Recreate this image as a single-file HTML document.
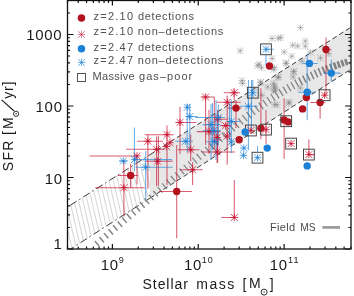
<!DOCTYPE html>
<html><head><meta charset="utf-8"><style>
html,body{margin:0;padding:0;background:#fff;}
svg{display:block;will-change:transform;}
</style></head><body>
<svg width="354" height="296" viewBox="0 0 354 296">
<clipPath id="pc"><rect x="67.5" y="0.5" width="283.5" height="248.5"/></clipPath>
<g clip-path="url(#pc)">
<polygon points="150.0,154.69 351.0,27.23 351.0,69.19 150.0,198.10" fill="#e7e7e7"/>
<clipPath id="hc"><polygon points="67.5,207.00 150.0,154.69 150.0,198.10 67.5,251.01"/></clipPath>
<path clip-path="url(#hc)" d="M-5.70,120 L24.20,250 M-1.32,120 L28.58,250 M3.06,120 L32.96,250 M7.44,120 L37.34,250 M11.82,120 L41.72,250 M16.20,120 L46.10,250 M20.58,120 L50.48,250 M24.96,120 L54.86,250 M29.34,120 L59.24,250 M33.72,120 L63.62,250 M38.10,120 L68.00,250 M42.48,120 L72.38,250 M46.86,120 L76.76,250 M51.24,120 L81.14,250 M55.62,120 L85.52,250 M60.00,120 L89.90,250 M64.38,120 L94.28,250 M68.76,120 L98.66,250 M73.14,120 L103.04,250 M77.52,120 L107.42,250 M81.90,120 L111.80,250 M86.28,120 L116.18,250 M90.66,120 L120.56,250 M95.04,120 L124.94,250 M99.42,120 L129.32,250 M103.80,120 L133.70,250 M108.18,120 L138.08,250 M112.56,120 L142.46,250 M116.94,120 L146.84,250 M121.32,120 L151.22,250 M125.70,120 L155.60,250 M130.08,120 L159.98,250 M134.46,120 L164.36,250 M138.84,120 L168.74,250 M143.22,120 L173.12,250 M147.60,120 L177.50,250 M151.98,120 L181.88,250 M156.36,120 L186.26,250 M160.74,120 L190.64,250 M165.12,120 L195.02,250 M169.50,120 L199.40,250 M173.88,120 L203.78,250 M178.26,120 L208.16,250 M182.64,120 L212.54,250 M187.02,120 L216.92,250 M191.40,120 L221.30,250 M195.78,120 L225.68,250 M200.16,120 L230.06,250 M204.54,120 L234.44,250 M208.92,120 L238.82,250" stroke="#d9d9d9" stroke-width="1.1" fill="none"/>
<line x1="236.80" y1="50.80" x2="243.60" y2="50.80" stroke="#7a7a7a" stroke-width="0.8" stroke-opacity="0.52"/><line x1="240.20" y1="47.40" x2="240.20" y2="54.20" stroke="#7a7a7a" stroke-width="0.8" stroke-opacity="0.52"/><line x1="237.04" y1="47.64" x2="243.36" y2="53.96" stroke="#7a7a7a" stroke-width="0.8" stroke-opacity="0.52"/><line x1="237.04" y1="53.96" x2="243.36" y2="47.64" stroke="#7a7a7a" stroke-width="0.8" stroke-opacity="0.52"/>
<line x1="268.60" y1="38.50" x2="275.40" y2="38.50" stroke="#7a7a7a" stroke-width="0.8" stroke-opacity="0.52"/><line x1="272.00" y1="35.10" x2="272.00" y2="41.90" stroke="#7a7a7a" stroke-width="0.8" stroke-opacity="0.52"/><line x1="268.84" y1="35.34" x2="275.16" y2="41.66" stroke="#7a7a7a" stroke-width="0.8" stroke-opacity="0.52"/><line x1="268.84" y1="41.66" x2="275.16" y2="35.34" stroke="#7a7a7a" stroke-width="0.8" stroke-opacity="0.52"/>
<line x1="274.90" y1="38.20" x2="281.70" y2="38.20" stroke="#7a7a7a" stroke-width="0.8" stroke-opacity="0.52"/><line x1="278.30" y1="34.80" x2="278.30" y2="41.60" stroke="#7a7a7a" stroke-width="0.8" stroke-opacity="0.52"/><line x1="275.14" y1="35.04" x2="281.46" y2="41.36" stroke="#7a7a7a" stroke-width="0.8" stroke-opacity="0.52"/><line x1="275.14" y1="41.36" x2="281.46" y2="35.04" stroke="#7a7a7a" stroke-width="0.8" stroke-opacity="0.52"/>
<line x1="297.00" y1="27.60" x2="303.80" y2="27.60" stroke="#7a7a7a" stroke-width="0.8" stroke-opacity="0.52"/><line x1="300.40" y1="24.20" x2="300.40" y2="31.00" stroke="#7a7a7a" stroke-width="0.8" stroke-opacity="0.52"/><line x1="297.24" y1="24.44" x2="303.56" y2="30.76" stroke="#7a7a7a" stroke-width="0.8" stroke-opacity="0.52"/><line x1="297.24" y1="30.76" x2="303.56" y2="24.44" stroke="#7a7a7a" stroke-width="0.8" stroke-opacity="0.52"/>
<line x1="301.90" y1="41.00" x2="308.70" y2="41.00" stroke="#7a7a7a" stroke-width="0.8" stroke-opacity="0.52"/><line x1="305.30" y1="37.60" x2="305.30" y2="44.40" stroke="#7a7a7a" stroke-width="0.8" stroke-opacity="0.52"/><line x1="302.14" y1="37.84" x2="308.46" y2="44.16" stroke="#7a7a7a" stroke-width="0.8" stroke-opacity="0.52"/><line x1="302.14" y1="44.16" x2="308.46" y2="37.84" stroke="#7a7a7a" stroke-width="0.8" stroke-opacity="0.52"/>
<line x1="289.30" y1="45.20" x2="296.10" y2="45.20" stroke="#7a7a7a" stroke-width="0.8" stroke-opacity="0.52"/><line x1="292.70" y1="41.80" x2="292.70" y2="48.60" stroke="#7a7a7a" stroke-width="0.8" stroke-opacity="0.52"/><line x1="289.54" y1="42.04" x2="295.86" y2="48.36" stroke="#7a7a7a" stroke-width="0.8" stroke-opacity="0.52"/><line x1="289.54" y1="48.36" x2="295.86" y2="42.04" stroke="#7a7a7a" stroke-width="0.8" stroke-opacity="0.52"/>
<line x1="294.30" y1="46.00" x2="301.10" y2="46.00" stroke="#7a7a7a" stroke-width="0.8" stroke-opacity="0.52"/><line x1="297.70" y1="42.60" x2="297.70" y2="49.40" stroke="#7a7a7a" stroke-width="0.8" stroke-opacity="0.52"/><line x1="294.54" y1="42.84" x2="300.86" y2="49.16" stroke="#7a7a7a" stroke-width="0.8" stroke-opacity="0.52"/><line x1="294.54" y1="49.16" x2="300.86" y2="42.84" stroke="#7a7a7a" stroke-width="0.8" stroke-opacity="0.52"/>
<line x1="301.90" y1="46.20" x2="308.70" y2="46.20" stroke="#7a7a7a" stroke-width="0.8" stroke-opacity="0.52"/><line x1="305.30" y1="42.80" x2="305.30" y2="49.60" stroke="#7a7a7a" stroke-width="0.8" stroke-opacity="0.52"/><line x1="302.14" y1="43.04" x2="308.46" y2="49.36" stroke="#7a7a7a" stroke-width="0.8" stroke-opacity="0.52"/><line x1="302.14" y1="49.36" x2="308.46" y2="43.04" stroke="#7a7a7a" stroke-width="0.8" stroke-opacity="0.52"/>
<line x1="280.80" y1="52.00" x2="287.60" y2="52.00" stroke="#7a7a7a" stroke-width="0.8" stroke-opacity="0.52"/><line x1="284.20" y1="48.60" x2="284.20" y2="55.40" stroke="#7a7a7a" stroke-width="0.8" stroke-opacity="0.52"/><line x1="281.04" y1="48.84" x2="287.36" y2="55.16" stroke="#7a7a7a" stroke-width="0.8" stroke-opacity="0.52"/><line x1="281.04" y1="55.16" x2="287.36" y2="48.84" stroke="#7a7a7a" stroke-width="0.8" stroke-opacity="0.52"/>
<line x1="288.40" y1="56.20" x2="295.20" y2="56.20" stroke="#7a7a7a" stroke-width="0.8" stroke-opacity="0.52"/><line x1="291.80" y1="52.80" x2="291.80" y2="59.60" stroke="#7a7a7a" stroke-width="0.8" stroke-opacity="0.52"/><line x1="288.64" y1="53.04" x2="294.96" y2="59.36" stroke="#7a7a7a" stroke-width="0.8" stroke-opacity="0.52"/><line x1="288.64" y1="59.36" x2="294.96" y2="53.04" stroke="#7a7a7a" stroke-width="0.8" stroke-opacity="0.52"/>
<line x1="307.00" y1="52.20" x2="313.80" y2="52.20" stroke="#7a7a7a" stroke-width="0.8" stroke-opacity="0.52"/><line x1="310.40" y1="48.80" x2="310.40" y2="55.60" stroke="#7a7a7a" stroke-width="0.8" stroke-opacity="0.52"/><line x1="307.24" y1="49.04" x2="313.56" y2="55.36" stroke="#7a7a7a" stroke-width="0.8" stroke-opacity="0.52"/><line x1="307.24" y1="55.36" x2="313.56" y2="49.04" stroke="#7a7a7a" stroke-width="0.8" stroke-opacity="0.52"/>
<line x1="317.10" y1="57.90" x2="323.90" y2="57.90" stroke="#7a7a7a" stroke-width="0.8" stroke-opacity="0.52"/><line x1="320.50" y1="54.50" x2="320.50" y2="61.30" stroke="#7a7a7a" stroke-width="0.8" stroke-opacity="0.52"/><line x1="317.34" y1="54.74" x2="323.66" y2="61.06" stroke="#7a7a7a" stroke-width="0.8" stroke-opacity="0.52"/><line x1="317.34" y1="61.06" x2="323.66" y2="54.74" stroke="#7a7a7a" stroke-width="0.8" stroke-opacity="0.52"/>
<line x1="282.50" y1="63.00" x2="289.30" y2="63.00" stroke="#7a7a7a" stroke-width="0.8" stroke-opacity="0.52"/><line x1="285.90" y1="59.60" x2="285.90" y2="66.40" stroke="#7a7a7a" stroke-width="0.8" stroke-opacity="0.52"/><line x1="282.74" y1="59.84" x2="289.06" y2="66.16" stroke="#7a7a7a" stroke-width="0.8" stroke-opacity="0.52"/><line x1="282.74" y1="66.16" x2="289.06" y2="59.84" stroke="#7a7a7a" stroke-width="0.8" stroke-opacity="0.52"/>
<line x1="298.60" y1="61.30" x2="305.40" y2="61.30" stroke="#7a7a7a" stroke-width="0.8" stroke-opacity="0.52"/><line x1="302.00" y1="57.90" x2="302.00" y2="64.70" stroke="#7a7a7a" stroke-width="0.8" stroke-opacity="0.52"/><line x1="298.84" y1="58.14" x2="305.16" y2="64.46" stroke="#7a7a7a" stroke-width="0.8" stroke-opacity="0.52"/><line x1="298.84" y1="64.46" x2="305.16" y2="58.14" stroke="#7a7a7a" stroke-width="0.8" stroke-opacity="0.52"/>
<line x1="290.10" y1="71.40" x2="296.90" y2="71.40" stroke="#7a7a7a" stroke-width="0.8" stroke-opacity="0.52"/><line x1="293.50" y1="68.00" x2="293.50" y2="74.80" stroke="#7a7a7a" stroke-width="0.8" stroke-opacity="0.52"/><line x1="290.34" y1="68.24" x2="296.66" y2="74.56" stroke="#7a7a7a" stroke-width="0.8" stroke-opacity="0.52"/><line x1="290.34" y1="74.56" x2="296.66" y2="68.24" stroke="#7a7a7a" stroke-width="0.8" stroke-opacity="0.52"/>
<line x1="268.70" y1="58.50" x2="275.50" y2="58.50" stroke="#7a7a7a" stroke-width="0.8" stroke-opacity="0.52"/><line x1="272.10" y1="55.10" x2="272.10" y2="61.90" stroke="#7a7a7a" stroke-width="0.8" stroke-opacity="0.52"/><line x1="268.94" y1="55.34" x2="275.26" y2="61.66" stroke="#7a7a7a" stroke-width="0.8" stroke-opacity="0.52"/><line x1="268.94" y1="61.66" x2="275.26" y2="55.34" stroke="#7a7a7a" stroke-width="0.8" stroke-opacity="0.52"/>
<line x1="270.30" y1="69.70" x2="277.10" y2="69.70" stroke="#7a7a7a" stroke-width="0.8" stroke-opacity="0.52"/><line x1="273.70" y1="66.30" x2="273.70" y2="73.10" stroke="#7a7a7a" stroke-width="0.8" stroke-opacity="0.52"/><line x1="270.54" y1="66.54" x2="276.86" y2="72.86" stroke="#7a7a7a" stroke-width="0.8" stroke-opacity="0.52"/><line x1="270.54" y1="72.86" x2="276.86" y2="66.54" stroke="#7a7a7a" stroke-width="0.8" stroke-opacity="0.52"/>
<line x1="254.10" y1="65.60" x2="260.90" y2="65.60" stroke="#7a7a7a" stroke-width="0.8" stroke-opacity="0.52"/><line x1="257.50" y1="62.20" x2="257.50" y2="69.00" stroke="#7a7a7a" stroke-width="0.8" stroke-opacity="0.52"/><line x1="254.34" y1="62.44" x2="260.66" y2="68.76" stroke="#7a7a7a" stroke-width="0.8" stroke-opacity="0.52"/><line x1="254.34" y1="68.76" x2="260.66" y2="62.44" stroke="#7a7a7a" stroke-width="0.8" stroke-opacity="0.52"/>
<line x1="258.10" y1="67.70" x2="264.90" y2="67.70" stroke="#7a7a7a" stroke-width="0.8" stroke-opacity="0.52"/><line x1="261.50" y1="64.30" x2="261.50" y2="71.10" stroke="#7a7a7a" stroke-width="0.8" stroke-opacity="0.52"/><line x1="258.34" y1="64.54" x2="264.66" y2="70.86" stroke="#7a7a7a" stroke-width="0.8" stroke-opacity="0.52"/><line x1="258.34" y1="70.86" x2="264.66" y2="64.54" stroke="#7a7a7a" stroke-width="0.8" stroke-opacity="0.52"/>
<line x1="277.40" y1="37.60" x2="284.20" y2="37.60" stroke="#7a7a7a" stroke-width="0.8" stroke-opacity="0.52"/><line x1="280.80" y1="34.20" x2="280.80" y2="41.00" stroke="#7a7a7a" stroke-width="0.8" stroke-opacity="0.52"/><line x1="277.64" y1="34.44" x2="283.96" y2="40.76" stroke="#7a7a7a" stroke-width="0.8" stroke-opacity="0.52"/><line x1="277.64" y1="40.76" x2="283.96" y2="34.44" stroke="#7a7a7a" stroke-width="0.8" stroke-opacity="0.52"/>
<line x1="255.80" y1="64.20" x2="262.60" y2="64.20" stroke="#7a7a7a" stroke-width="0.8" stroke-opacity="0.52"/><line x1="259.20" y1="60.80" x2="259.20" y2="67.60" stroke="#7a7a7a" stroke-width="0.8" stroke-opacity="0.52"/><line x1="256.04" y1="61.04" x2="262.36" y2="67.36" stroke="#7a7a7a" stroke-width="0.8" stroke-opacity="0.52"/><line x1="256.04" y1="67.36" x2="262.36" y2="61.04" stroke="#7a7a7a" stroke-width="0.8" stroke-opacity="0.52"/>
<line x1="271.00" y1="67.60" x2="277.80" y2="67.60" stroke="#7a7a7a" stroke-width="0.8" stroke-opacity="0.52"/><line x1="274.40" y1="64.20" x2="274.40" y2="71.00" stroke="#7a7a7a" stroke-width="0.8" stroke-opacity="0.52"/><line x1="271.24" y1="64.44" x2="277.56" y2="70.76" stroke="#7a7a7a" stroke-width="0.8" stroke-opacity="0.52"/><line x1="271.24" y1="70.76" x2="277.56" y2="64.44" stroke="#7a7a7a" stroke-width="0.8" stroke-opacity="0.52"/>
<line x1="282.90" y1="63.40" x2="289.70" y2="63.40" stroke="#7a7a7a" stroke-width="0.8" stroke-opacity="0.52"/><line x1="286.30" y1="60.00" x2="286.30" y2="66.80" stroke="#7a7a7a" stroke-width="0.8" stroke-opacity="0.52"/><line x1="283.14" y1="60.24" x2="289.46" y2="66.56" stroke="#7a7a7a" stroke-width="0.8" stroke-opacity="0.52"/><line x1="283.14" y1="66.56" x2="289.46" y2="60.24" stroke="#7a7a7a" stroke-width="0.8" stroke-opacity="0.52"/>
<line x1="290.50" y1="71.80" x2="297.30" y2="71.80" stroke="#7a7a7a" stroke-width="0.8" stroke-opacity="0.52"/><line x1="293.90" y1="68.40" x2="293.90" y2="75.20" stroke="#7a7a7a" stroke-width="0.8" stroke-opacity="0.52"/><line x1="290.74" y1="68.64" x2="297.06" y2="74.96" stroke="#7a7a7a" stroke-width="0.8" stroke-opacity="0.52"/><line x1="290.74" y1="74.96" x2="297.06" y2="68.64" stroke="#7a7a7a" stroke-width="0.8" stroke-opacity="0.52"/>
<line x1="275.20" y1="76.90" x2="282.00" y2="76.90" stroke="#7a7a7a" stroke-width="0.8" stroke-opacity="0.52"/><line x1="278.60" y1="73.50" x2="278.60" y2="80.30" stroke="#7a7a7a" stroke-width="0.8" stroke-opacity="0.52"/><line x1="275.44" y1="73.74" x2="281.76" y2="80.06" stroke="#7a7a7a" stroke-width="0.8" stroke-opacity="0.52"/><line x1="275.44" y1="80.06" x2="281.76" y2="73.74" stroke="#7a7a7a" stroke-width="0.8" stroke-opacity="0.52"/>
<line x1="289.60" y1="76.90" x2="296.40" y2="76.90" stroke="#7a7a7a" stroke-width="0.8" stroke-opacity="0.52"/><line x1="293.00" y1="73.50" x2="293.00" y2="80.30" stroke="#7a7a7a" stroke-width="0.8" stroke-opacity="0.52"/><line x1="289.84" y1="73.74" x2="296.16" y2="80.06" stroke="#7a7a7a" stroke-width="0.8" stroke-opacity="0.52"/><line x1="289.84" y1="80.06" x2="296.16" y2="73.74" stroke="#7a7a7a" stroke-width="0.8" stroke-opacity="0.52"/>
<line x1="257.50" y1="82.00" x2="264.30" y2="82.00" stroke="#7a7a7a" stroke-width="0.8" stroke-opacity="0.52"/><line x1="260.90" y1="78.60" x2="260.90" y2="85.40" stroke="#7a7a7a" stroke-width="0.8" stroke-opacity="0.52"/><line x1="257.74" y1="78.84" x2="264.06" y2="85.16" stroke="#7a7a7a" stroke-width="0.8" stroke-opacity="0.52"/><line x1="257.74" y1="85.16" x2="264.06" y2="78.84" stroke="#7a7a7a" stroke-width="0.8" stroke-opacity="0.52"/>
<line x1="270.20" y1="83.60" x2="277.00" y2="83.60" stroke="#7a7a7a" stroke-width="0.8" stroke-opacity="0.52"/><line x1="273.60" y1="80.20" x2="273.60" y2="87.00" stroke="#7a7a7a" stroke-width="0.8" stroke-opacity="0.52"/><line x1="270.44" y1="80.44" x2="276.76" y2="86.76" stroke="#7a7a7a" stroke-width="0.8" stroke-opacity="0.52"/><line x1="270.44" y1="86.76" x2="276.76" y2="80.44" stroke="#7a7a7a" stroke-width="0.8" stroke-opacity="0.52"/>
<line x1="271.00" y1="87.90" x2="277.80" y2="87.90" stroke="#7a7a7a" stroke-width="0.8" stroke-opacity="0.52"/><line x1="274.40" y1="84.50" x2="274.40" y2="91.30" stroke="#7a7a7a" stroke-width="0.8" stroke-opacity="0.52"/><line x1="271.24" y1="84.74" x2="277.56" y2="91.06" stroke="#7a7a7a" stroke-width="0.8" stroke-opacity="0.52"/><line x1="271.24" y1="91.06" x2="277.56" y2="84.74" stroke="#7a7a7a" stroke-width="0.8" stroke-opacity="0.52"/>
<line x1="270.20" y1="91.30" x2="277.00" y2="91.30" stroke="#7a7a7a" stroke-width="0.8" stroke-opacity="0.52"/><line x1="273.60" y1="87.90" x2="273.60" y2="94.70" stroke="#7a7a7a" stroke-width="0.8" stroke-opacity="0.52"/><line x1="270.44" y1="88.14" x2="276.76" y2="94.46" stroke="#7a7a7a" stroke-width="0.8" stroke-opacity="0.52"/><line x1="270.44" y1="94.46" x2="276.76" y2="88.14" stroke="#7a7a7a" stroke-width="0.8" stroke-opacity="0.52"/>
<line x1="285.40" y1="103.10" x2="292.20" y2="103.10" stroke="#7a7a7a" stroke-width="0.8" stroke-opacity="0.52"/><line x1="288.80" y1="99.70" x2="288.80" y2="106.50" stroke="#7a7a7a" stroke-width="0.8" stroke-opacity="0.52"/><line x1="285.64" y1="99.94" x2="291.96" y2="106.26" stroke="#7a7a7a" stroke-width="0.8" stroke-opacity="0.52"/><line x1="285.64" y1="106.26" x2="291.96" y2="99.94" stroke="#7a7a7a" stroke-width="0.8" stroke-opacity="0.52"/>
<line x1="273.60" y1="104.80" x2="280.40" y2="104.80" stroke="#7a7a7a" stroke-width="0.8" stroke-opacity="0.52"/><line x1="277.00" y1="101.40" x2="277.00" y2="108.20" stroke="#7a7a7a" stroke-width="0.8" stroke-opacity="0.52"/><line x1="273.84" y1="101.64" x2="280.16" y2="107.96" stroke="#7a7a7a" stroke-width="0.8" stroke-opacity="0.52"/><line x1="273.84" y1="107.96" x2="280.16" y2="101.64" stroke="#7a7a7a" stroke-width="0.8" stroke-opacity="0.52"/>
<line x1="264.30" y1="87.00" x2="271.10" y2="87.00" stroke="#7a7a7a" stroke-width="0.8" stroke-opacity="0.52"/><line x1="267.70" y1="83.60" x2="267.70" y2="90.40" stroke="#7a7a7a" stroke-width="0.8" stroke-opacity="0.52"/><line x1="264.54" y1="83.84" x2="270.86" y2="90.16" stroke="#7a7a7a" stroke-width="0.8" stroke-opacity="0.52"/><line x1="264.54" y1="90.16" x2="270.86" y2="83.84" stroke="#7a7a7a" stroke-width="0.8" stroke-opacity="0.52"/>
<line x1="239.10" y1="83.40" x2="245.90" y2="83.40" stroke="#7a7a7a" stroke-width="0.8" stroke-opacity="0.52"/><line x1="242.50" y1="80.00" x2="242.50" y2="86.80" stroke="#7a7a7a" stroke-width="0.8" stroke-opacity="0.52"/><line x1="239.34" y1="80.24" x2="245.66" y2="86.56" stroke="#7a7a7a" stroke-width="0.8" stroke-opacity="0.52"/><line x1="239.34" y1="86.56" x2="245.66" y2="80.24" stroke="#7a7a7a" stroke-width="0.8" stroke-opacity="0.52"/>
<line x1="256.90" y1="82.60" x2="263.70" y2="82.60" stroke="#7a7a7a" stroke-width="0.8" stroke-opacity="0.52"/><line x1="260.30" y1="79.20" x2="260.30" y2="86.00" stroke="#7a7a7a" stroke-width="0.8" stroke-opacity="0.52"/><line x1="257.14" y1="79.44" x2="263.46" y2="85.76" stroke="#7a7a7a" stroke-width="0.8" stroke-opacity="0.52"/><line x1="257.14" y1="85.76" x2="263.46" y2="79.44" stroke="#7a7a7a" stroke-width="0.8" stroke-opacity="0.52"/>
<line x1="274.60" y1="77.50" x2="281.40" y2="77.50" stroke="#7a7a7a" stroke-width="0.8" stroke-opacity="0.52"/><line x1="278.00" y1="74.10" x2="278.00" y2="80.90" stroke="#7a7a7a" stroke-width="0.8" stroke-opacity="0.52"/><line x1="274.84" y1="74.34" x2="281.16" y2="80.66" stroke="#7a7a7a" stroke-width="0.8" stroke-opacity="0.52"/><line x1="274.84" y1="80.66" x2="281.16" y2="74.34" stroke="#7a7a7a" stroke-width="0.8" stroke-opacity="0.52"/>
<line x1="271.20" y1="86.00" x2="278.00" y2="86.00" stroke="#7a7a7a" stroke-width="0.8" stroke-opacity="0.52"/><line x1="274.60" y1="82.60" x2="274.60" y2="89.40" stroke="#7a7a7a" stroke-width="0.8" stroke-opacity="0.52"/><line x1="271.44" y1="82.84" x2="277.76" y2="89.16" stroke="#7a7a7a" stroke-width="0.8" stroke-opacity="0.52"/><line x1="271.44" y1="89.16" x2="277.76" y2="82.84" stroke="#7a7a7a" stroke-width="0.8" stroke-opacity="0.52"/>
<line x1="272.10" y1="90.20" x2="278.90" y2="90.20" stroke="#7a7a7a" stroke-width="0.8" stroke-opacity="0.52"/><line x1="275.50" y1="86.80" x2="275.50" y2="93.60" stroke="#7a7a7a" stroke-width="0.8" stroke-opacity="0.52"/><line x1="272.34" y1="87.04" x2="278.66" y2="93.36" stroke="#7a7a7a" stroke-width="0.8" stroke-opacity="0.52"/><line x1="272.34" y1="93.36" x2="278.66" y2="87.04" stroke="#7a7a7a" stroke-width="0.8" stroke-opacity="0.52"/>
<line x1="271.20" y1="104.60" x2="278.00" y2="104.60" stroke="#7a7a7a" stroke-width="0.8" stroke-opacity="0.52"/><line x1="274.60" y1="101.20" x2="274.60" y2="108.00" stroke="#7a7a7a" stroke-width="0.8" stroke-opacity="0.52"/><line x1="271.44" y1="101.44" x2="277.76" y2="107.76" stroke="#7a7a7a" stroke-width="0.8" stroke-opacity="0.52"/><line x1="271.44" y1="107.76" x2="277.76" y2="101.44" stroke="#7a7a7a" stroke-width="0.8" stroke-opacity="0.52"/>
<line x1="258.60" y1="95.30" x2="265.40" y2="95.30" stroke="#7a7a7a" stroke-width="0.8" stroke-opacity="0.52"/><line x1="262.00" y1="91.90" x2="262.00" y2="98.70" stroke="#7a7a7a" stroke-width="0.8" stroke-opacity="0.52"/><line x1="258.84" y1="92.14" x2="265.16" y2="98.46" stroke="#7a7a7a" stroke-width="0.8" stroke-opacity="0.52"/><line x1="258.84" y1="98.46" x2="265.16" y2="92.14" stroke="#7a7a7a" stroke-width="0.8" stroke-opacity="0.52"/>
<line x1="238.60" y1="80.50" x2="245.40" y2="80.50" stroke="#7a7a7a" stroke-width="0.8" stroke-opacity="0.52"/><line x1="242.00" y1="77.10" x2="242.00" y2="83.90" stroke="#7a7a7a" stroke-width="0.8" stroke-opacity="0.52"/><line x1="238.84" y1="77.34" x2="245.16" y2="83.66" stroke="#7a7a7a" stroke-width="0.8" stroke-opacity="0.52"/><line x1="238.84" y1="83.66" x2="245.16" y2="77.34" stroke="#7a7a7a" stroke-width="0.8" stroke-opacity="0.52"/>
<line x1="325.40" y1="53.60" x2="332.20" y2="53.60" stroke="#7a7a7a" stroke-width="0.8" stroke-opacity="0.52"/><line x1="328.80" y1="50.20" x2="328.80" y2="57.00" stroke="#7a7a7a" stroke-width="0.8" stroke-opacity="0.52"/><line x1="325.64" y1="50.44" x2="331.96" y2="56.76" stroke="#7a7a7a" stroke-width="0.8" stroke-opacity="0.52"/><line x1="325.64" y1="56.76" x2="331.96" y2="50.44" stroke="#7a7a7a" stroke-width="0.8" stroke-opacity="0.52"/>
<line x1="297.00" y1="88.00" x2="303.80" y2="88.00" stroke="#7a7a7a" stroke-width="0.8" stroke-opacity="0.52"/><line x1="300.40" y1="84.60" x2="300.40" y2="91.40" stroke="#7a7a7a" stroke-width="0.8" stroke-opacity="0.52"/><line x1="297.24" y1="84.84" x2="303.56" y2="91.16" stroke="#7a7a7a" stroke-width="0.8" stroke-opacity="0.52"/><line x1="297.24" y1="91.16" x2="303.56" y2="84.84" stroke="#7a7a7a" stroke-width="0.8" stroke-opacity="0.52"/>
<line x1="285.80" y1="102.20" x2="292.60" y2="102.20" stroke="#7a7a7a" stroke-width="0.8" stroke-opacity="0.52"/><line x1="289.20" y1="98.80" x2="289.20" y2="105.60" stroke="#7a7a7a" stroke-width="0.8" stroke-opacity="0.52"/><line x1="286.04" y1="99.04" x2="292.36" y2="105.36" stroke="#7a7a7a" stroke-width="0.8" stroke-opacity="0.52"/><line x1="286.04" y1="105.36" x2="292.36" y2="99.04" stroke="#7a7a7a" stroke-width="0.8" stroke-opacity="0.52"/>
<line x1="67.5" y1="207.00" x2="150.0" y2="154.69" stroke="#3a3a3a" stroke-width="1.0" stroke-dasharray="7.5 3.2 1.5 3.2" stroke-dashoffset="12.2"/>
<line x1="67.5" y1="251.01" x2="150.0" y2="198.10" stroke="#3a3a3a" stroke-width="1.0" stroke-dasharray="7.5 3.2 1.5 3.2" stroke-dashoffset="0"/>
<line x1="150.0" y1="154.69" x2="351.0" y2="27.23" stroke="#3a3a3a" stroke-width="1.0" stroke-dasharray="5 3"/>
<line x1="150.0" y1="198.10" x2="351.0" y2="69.19" stroke="#3a3a3a" stroke-width="1.0" stroke-dasharray="5 3"/>
<path d="M94.80,240.95L99.20,246.13M99.40,237.02L103.82,242.22M103.98,233.10L108.43,238.33M108.55,229.20L113.01,234.45M113.10,225.31L117.58,230.58M117.64,221.43L122.14,226.73M122.16,217.57L126.68,222.89M126.66,213.72L131.20,219.06M131.15,209.89L135.70,215.25M135.62,206.07L140.19,211.45M140.07,202.26L144.66,207.66M144.51,198.47L149.12,203.89M148.93,194.69L153.56,200.13M153.34,190.93L157.99,196.39" fill="none" stroke="#828282" stroke-width="1.45"/>
<path d="M157.73,187.17L162.39,192.66M162.10,183.43L166.79,188.94M166.46,179.71L171.16,185.24M170.81,176.00L175.53,181.55M175.13,172.30L179.87,177.87M179.45,168.61L184.20,174.21M183.74,164.94L188.52,170.55M188.02,161.28L192.81,166.92M192.29,157.64L197.10,163.29M196.54,154.01L201.37,159.68M200.78,150.39L205.62,156.08M205.00,146.78L209.85,152.50M209.20,143.19L214.08,148.92M213.39,139.61L218.28,145.36M217.56,136.04L222.48,141.82M221.72,132.49L226.65,138.28M225.87,128.94L230.81,134.76M230.00,125.42L234.96,131.25M234.14,121.90L239.07,127.80M238.27,118.47L243.15,124.44M242.39,115.13L247.21,121.18M246.50,111.88L251.26,118.01M250.59,108.73L255.30,114.94M254.68,105.66L259.32,111.95M258.74,102.68L263.32,109.05M262.80,99.79L267.30,106.24M266.84,96.99L271.27,103.52M270.87,94.28L275.23,100.88M274.88,91.65L279.17,98.33M278.88,89.10L283.09,95.87M282.87,86.64L287.00,93.49M286.85,84.27L290.89,91.19M290.81,81.97L294.77,88.97M294.76,79.76L298.63,86.84" fill="none" stroke="#828282" stroke-width="1.25"/>
<path d="M298.70,77.63L302.48,84.79M302.62,75.58L306.31,82.81M306.54,73.61L310.12,80.92M310.44,71.72L313.92,79.10M314.32,69.90L317.71,77.36M318.20,68.16L321.48,75.70" fill="none" stroke="#828282" stroke-width="1.5"/>
<path d="M322.15,66.72L325.15,73.90M326.04,65.25L328.84,72.26M329.92,63.86L332.53,70.71" fill="none" stroke="#828282" stroke-width="2.0"/>
<path d="M333.78,62.54L336.20,69.22M337.62,61.30L339.86,67.80M341.45,60.14L343.52,66.46M345.26,59.04L347.16,65.18" fill="none" stroke="#828282" stroke-width="2.6"/>
<path d="M117.60,175.50H137.90" stroke="#c8102e" stroke-width="1.05" stroke-opacity="0.68" fill="none"/>
<path d="M130.60,164.00V188.00" stroke="#c8102e" stroke-width="1.05" stroke-opacity="0.68" fill="none"/>
<path d="M159.00,191.50H191.90" stroke="#c8102e" stroke-width="1.05" stroke-opacity="0.68" fill="none"/>
<path d="M176.70,145.00V238.30" stroke="#c8102e" stroke-width="1.05" stroke-opacity="0.68" fill="none"/>
<path d="M260.90,88.30V139.30" stroke="#c8102e" stroke-width="1.05" stroke-opacity="0.68" fill="none"/>
<path d="M322.90,49.50H331.30" stroke="#c8102e" stroke-width="1.05" stroke-opacity="0.68" fill="none"/>
<path d="M326.00,37.60V95.00" stroke="#c8102e" stroke-width="1.05" stroke-opacity="0.68" fill="none"/>
<path d="M310.20,102.50H325.40" stroke="#c8102e" stroke-width="1.05" stroke-opacity="0.68" fill="none"/>
<path d="M320.10,99.80V118.80" stroke="#c8102e" stroke-width="1.05" stroke-opacity="0.68" fill="none"/>
<path d="M279.00,119.90H289.00" stroke="#c8102e" stroke-width="1.05" stroke-opacity="0.68" fill="none"/>
<path d="M284.10,98.20V158.80" stroke="#c8102e" stroke-width="1.05" stroke-opacity="0.68" fill="none"/>
<path d="M95.20,187.70H144.80" stroke="#c8102e" stroke-width="1.05" stroke-opacity="0.68" fill="none"/>
<path d="M123.90,160.00V216.50" stroke="#c8102e" stroke-width="1.05" stroke-opacity="0.68" fill="none"/>
<path d="M89.70,155.90H137.00" stroke="#c8102e" stroke-width="1.05" stroke-opacity="0.68" fill="none"/>
<path d="M137.00,156.00V184.60" stroke="#c8102e" stroke-width="1.05" stroke-opacity="0.68" fill="none"/>
<path d="M137.20,141.20H163.00" stroke="#c8102e" stroke-width="1.05" stroke-opacity="0.68" fill="none"/>
<path d="M147.90,134.40V188.80" stroke="#c8102e" stroke-width="1.05" stroke-opacity="0.68" fill="none"/>
<path d="M144.70,134.70H173.80" stroke="#c8102e" stroke-width="1.05" stroke-opacity="0.68" fill="none"/>
<path d="M167.00,125.40V185.00" stroke="#c8102e" stroke-width="1.05" stroke-opacity="0.68" fill="none"/>
<path d="M126.20,149.30H164.40" stroke="#c8102e" stroke-width="1.05" stroke-opacity="0.68" fill="none"/>
<path d="M156.60,136.50V186.30" stroke="#c8102e" stroke-width="1.05" stroke-opacity="0.68" fill="none"/>
<path d="M145.00,161.20H172.80" stroke="#c8102e" stroke-width="1.05" stroke-opacity="0.68" fill="none"/>
<path d="M175.30,122.40H196.40" stroke="#c8102e" stroke-width="1.05" stroke-opacity="0.68" fill="none"/>
<path d="M180.00,106.80V154.00" stroke="#c8102e" stroke-width="1.05" stroke-opacity="0.68" fill="none"/>
<path d="M177.80,149.80H199.40" stroke="#c8102e" stroke-width="1.05" stroke-opacity="0.68" fill="none"/>
<path d="M190.70,134.40V161.30" stroke="#c8102e" stroke-width="1.05" stroke-opacity="0.68" fill="none"/>
<path d="M180.00,169.80H202.70" stroke="#c8102e" stroke-width="1.05" stroke-opacity="0.68" fill="none"/>
<path d="M192.60,162.20V185.00" stroke="#c8102e" stroke-width="1.05" stroke-opacity="0.68" fill="none"/>
<path d="M221.40,217.50H234.30" stroke="#c8102e" stroke-width="1.05" stroke-opacity="0.68" fill="none"/>
<path d="M234.30,180.10V217.50" stroke="#c8102e" stroke-width="1.05" stroke-opacity="0.68" fill="none"/>
<path d="M266.00,110.00V144.00" stroke="#c8102e" stroke-width="1.05" stroke-opacity="0.68" fill="none"/>
<path d="M308.90,154.60H314.80" stroke="#c8102e" stroke-width="1.05" stroke-opacity="0.68" fill="none"/>
<path d="M308.90,139.40V154.60" stroke="#c8102e" stroke-width="1.05" stroke-opacity="0.68" fill="none"/>
<path d="M302.60,63.40H317.80" stroke="#1b7fd5" stroke-width="1.05" stroke-opacity="0.66" fill="none"/>
<path d="M323.70,73.10H340.60" stroke="#1b7fd5" stroke-width="1.05" stroke-opacity="0.66" fill="none"/>
<path d="M331.30,59.60V81.40" stroke="#1b7fd5" stroke-width="1.05" stroke-opacity="0.66" fill="none"/>
<path d="M298.00,92.20H315.50" stroke="#1b7fd5" stroke-width="1.05" stroke-opacity="0.66" fill="none"/>
<path d="M307.20,54.00V120.30" stroke="#1b7fd5" stroke-width="1.05" stroke-opacity="0.66" fill="none"/>
<path d="M119.00,161.00H128.20" stroke="#1b7fd5" stroke-width="1.05" stroke-opacity="0.66" fill="none"/>
<path d="M134.00,159.60H172.00" stroke="#1b7fd5" stroke-width="1.05" stroke-opacity="0.66" fill="none"/>
<path d="M134.40,127.60V171.30" stroke="#1b7fd5" stroke-width="1.05" stroke-opacity="0.66" fill="none"/>
<path d="M135.70,167.20H172.80" stroke="#1b7fd5" stroke-width="1.05" stroke-opacity="0.66" fill="none"/>
<path d="M145.70,151.00V198.90" stroke="#1b7fd5" stroke-width="1.05" stroke-opacity="0.66" fill="none"/>
<path d="M185.40,116.50H197.60" stroke="#1b7fd5" stroke-width="1.05" stroke-opacity="0.66" fill="none"/>
<path d="M189.80,104.00V150.00" stroke="#1b7fd5" stroke-width="1.05" stroke-opacity="0.66" fill="none"/>
<path d="M175.30,141.30H193.00" stroke="#1b7fd5" stroke-width="1.05" stroke-opacity="0.66" fill="none"/>
<path d="M252.80,80.00V98.00" stroke="#1b7fd5" stroke-width="1.05" stroke-opacity="0.66" fill="none"/>
<path d="M266.00,49.30H274.10" stroke="#1b7fd5" stroke-width="1.05" stroke-opacity="0.66" fill="none"/>
<path d="M266.00,54.50V66.00" stroke="#1b7fd5" stroke-width="1.05" stroke-opacity="0.66" fill="none"/>
<path d="M257.50,146.10V152.00" stroke="#1b7fd5" stroke-width="1.05" stroke-opacity="0.66" fill="none"/>
<path d="M200.60,97.00H214.30" stroke="#c8102e" stroke-width="1.05" stroke-opacity="0.68" fill="none"/>
<path d="M205.60,97.00V145.00" stroke="#c8102e" stroke-width="1.05" stroke-opacity="0.68" fill="none"/>
<path d="M223.80,92.80H240.00" stroke="#c8102e" stroke-width="1.05" stroke-opacity="0.68" fill="none"/>
<path d="M234.10,88.00V100.00" stroke="#c8102e" stroke-width="1.05" stroke-opacity="0.68" fill="none"/>
<path d="M216.40,102.30H240.70" stroke="#c8102e" stroke-width="1.05" stroke-opacity="0.68" fill="none"/>
<path d="M227.20,95.50V164.70" stroke="#c8102e" stroke-width="1.05" stroke-opacity="0.68" fill="none"/>
<path d="M214.90,119.20H227.00" stroke="#c8102e" stroke-width="1.05" stroke-opacity="0.68" fill="none"/>
<path d="M217.70,109.70V163.00" stroke="#c8102e" stroke-width="1.05" stroke-opacity="0.68" fill="none"/>
<path d="M220.30,125.60H231.00" stroke="#c8102e" stroke-width="1.05" stroke-opacity="0.68" fill="none"/>
<path d="M196.80,131.60H220.50" stroke="#c8102e" stroke-width="1.05" stroke-opacity="0.68" fill="none"/>
<path d="M209.00,109.70V153.70" stroke="#c8102e" stroke-width="1.05" stroke-opacity="0.68" fill="none"/>
<path d="M201.90,152.00H235.00" stroke="#c8102e" stroke-width="1.05" stroke-opacity="0.68" fill="none"/>
<path d="M217.10,134.30V163.00" stroke="#c8102e" stroke-width="1.05" stroke-opacity="0.68" fill="none"/>
<path d="M227.80,108.10H241.40" stroke="#c8102e" stroke-width="1.05" stroke-opacity="0.68" fill="none"/>
<path d="M236.00,100.00V128.00" stroke="#c8102e" stroke-width="1.05" stroke-opacity="0.68" fill="none"/>
<path d="M195.00,117.50H225.00" stroke="#1b7fd5" stroke-width="1.05" stroke-opacity="0.66" fill="none"/>
<path d="M218.30,104.60V145.00" stroke="#1b7fd5" stroke-width="1.05" stroke-opacity="0.66" fill="none"/>
<path d="M202.70,124.60H220.30" stroke="#1b7fd5" stroke-width="1.05" stroke-opacity="0.66" fill="none"/>
<path d="M211.00,104.10V160.00" stroke="#1b7fd5" stroke-width="1.05" stroke-opacity="0.66" fill="none"/>
<path d="M202.70,130.70H221.00" stroke="#1b7fd5" stroke-width="1.05" stroke-opacity="0.66" fill="none"/>
<path d="M227.00,121.50H240.00" stroke="#1b7fd5" stroke-width="1.05" stroke-opacity="0.66" fill="none"/>
<path d="M231.30,99.60V152.90" stroke="#1b7fd5" stroke-width="1.05" stroke-opacity="0.66" fill="none"/>
<path d="M206.10,141.70H218.80" stroke="#1b7fd5" stroke-width="1.05" stroke-opacity="0.66" fill="none"/>
<path d="M240.00,106.30H258.00" stroke="#1b7fd5" stroke-width="1.05" stroke-opacity="0.66" fill="none"/>
<path d="M248.40,80.00V150.00" stroke="#1b7fd5" stroke-width="1.05" stroke-opacity="0.66" fill="none"/>
<path d="M187.20,104.00V152.00" stroke="#1b7fd5" stroke-width="1.05" stroke-opacity="0.66" fill="none"/>
<path d="M216.00,100.00V160.00" stroke="#1b7fd5" stroke-width="1.05" stroke-opacity="0.66" fill="none"/>
<path d="M212.50,103.00V150.00" stroke="#1b7fd5" stroke-width="1.05" stroke-opacity="0.66" fill="none"/>
<path d="M158.40,136.00V186.00" stroke="#c8102e" stroke-width="1.05" stroke-opacity="0.68" fill="none"/>
<path d="M229.60,103.00V140.00" stroke="#1b7fd5" stroke-width="1.05" stroke-opacity="0.66" fill="none"/>
<path d="M214.30,97.00V150.00" stroke="#c8102e" stroke-width="1.05" stroke-opacity="0.68" fill="none"/>
<path d="M251.50,80.00V130.00" stroke="#1b7fd5" stroke-width="1.05" stroke-opacity="0.66" fill="none"/>
<circle cx="130.6" cy="175.5" r="3.7" fill="#b3121f"/>
<circle cx="176.7" cy="191.5" r="3.7" fill="#b3121f"/>
<circle cx="239.2" cy="139.7" r="3.7" fill="#b3121f"/>
<circle cx="260.9" cy="128.2" r="3.7" fill="#b3121f"/>
<circle cx="269.5" cy="66" r="3.7" fill="#b3121f"/>
<circle cx="326" cy="49.5" r="3.7" fill="#b3121f"/>
<circle cx="306.4" cy="97.5" r="3.7" fill="#b3121f"/>
<circle cx="302.6" cy="108.9" r="3.7" fill="#b3121f"/>
<circle cx="320.1" cy="102.5" r="3.7" fill="#b3121f"/>
<circle cx="284.1" cy="119.9" r="3.7" fill="#b3121f"/>
<circle cx="288.2" cy="121.9" r="3.7" fill="#b3121f"/>
<line x1="120.20" y1="187.70" x2="127.60" y2="187.70" stroke="#c8102e" stroke-width="0.9" stroke-opacity="0.85"/><line x1="123.90" y1="184.00" x2="123.90" y2="191.40" stroke="#c8102e" stroke-width="0.9" stroke-opacity="0.85"/><line x1="120.46" y1="184.26" x2="127.34" y2="191.14" stroke="#c8102e" stroke-width="0.9" stroke-opacity="0.85"/><line x1="120.46" y1="191.14" x2="127.34" y2="184.26" stroke="#c8102e" stroke-width="0.9" stroke-opacity="0.85"/>
<circle cx="123.9" cy="187.7" r="0.9" fill="#c8102e" fill-opacity="0.7"/>
<line x1="133.30" y1="155.90" x2="140.70" y2="155.90" stroke="#c8102e" stroke-width="0.9" stroke-opacity="0.85"/><line x1="137.00" y1="152.20" x2="137.00" y2="159.60" stroke="#c8102e" stroke-width="0.9" stroke-opacity="0.85"/><line x1="133.56" y1="152.46" x2="140.44" y2="159.34" stroke="#c8102e" stroke-width="0.9" stroke-opacity="0.85"/><line x1="133.56" y1="159.34" x2="140.44" y2="152.46" stroke="#c8102e" stroke-width="0.9" stroke-opacity="0.85"/>
<circle cx="137" cy="155.9" r="0.9" fill="#c8102e" fill-opacity="0.7"/>
<line x1="144.20" y1="141.20" x2="151.60" y2="141.20" stroke="#c8102e" stroke-width="0.9" stroke-opacity="0.85"/><line x1="147.90" y1="137.50" x2="147.90" y2="144.90" stroke="#c8102e" stroke-width="0.9" stroke-opacity="0.85"/><line x1="144.46" y1="137.76" x2="151.34" y2="144.64" stroke="#c8102e" stroke-width="0.9" stroke-opacity="0.85"/><line x1="144.46" y1="144.64" x2="151.34" y2="137.76" stroke="#c8102e" stroke-width="0.9" stroke-opacity="0.85"/>
<circle cx="147.9" cy="141.2" r="0.9" fill="#c8102e" fill-opacity="0.7"/>
<line x1="163.30" y1="134.70" x2="170.70" y2="134.70" stroke="#c8102e" stroke-width="0.9" stroke-opacity="0.85"/><line x1="167.00" y1="131.00" x2="167.00" y2="138.40" stroke="#c8102e" stroke-width="0.9" stroke-opacity="0.85"/><line x1="163.56" y1="131.26" x2="170.44" y2="138.14" stroke="#c8102e" stroke-width="0.9" stroke-opacity="0.85"/><line x1="163.56" y1="138.14" x2="170.44" y2="131.26" stroke="#c8102e" stroke-width="0.9" stroke-opacity="0.85"/>
<circle cx="167" cy="134.7" r="0.9" fill="#c8102e" fill-opacity="0.7"/>
<line x1="152.90" y1="149.30" x2="160.30" y2="149.30" stroke="#c8102e" stroke-width="0.9" stroke-opacity="0.85"/><line x1="156.60" y1="145.60" x2="156.60" y2="153.00" stroke="#c8102e" stroke-width="0.9" stroke-opacity="0.85"/><line x1="153.16" y1="145.86" x2="160.04" y2="152.74" stroke="#c8102e" stroke-width="0.9" stroke-opacity="0.85"/><line x1="153.16" y1="152.74" x2="160.04" y2="145.86" stroke="#c8102e" stroke-width="0.9" stroke-opacity="0.85"/>
<circle cx="156.6" cy="149.3" r="0.9" fill="#c8102e" fill-opacity="0.7"/>
<line x1="153.90" y1="161.20" x2="161.30" y2="161.20" stroke="#c8102e" stroke-width="0.9" stroke-opacity="0.85"/><line x1="157.60" y1="157.50" x2="157.60" y2="164.90" stroke="#c8102e" stroke-width="0.9" stroke-opacity="0.85"/><line x1="154.16" y1="157.76" x2="161.04" y2="164.64" stroke="#c8102e" stroke-width="0.9" stroke-opacity="0.85"/><line x1="154.16" y1="164.64" x2="161.04" y2="157.76" stroke="#c8102e" stroke-width="0.9" stroke-opacity="0.85"/>
<circle cx="157.6" cy="161.2" r="0.9" fill="#c8102e" fill-opacity="0.7"/>
<line x1="166.30" y1="142.70" x2="173.70" y2="142.70" stroke="#c8102e" stroke-width="0.9" stroke-opacity="0.85"/><line x1="170.00" y1="139.00" x2="170.00" y2="146.40" stroke="#c8102e" stroke-width="0.9" stroke-opacity="0.85"/><line x1="166.56" y1="139.26" x2="173.44" y2="146.14" stroke="#c8102e" stroke-width="0.9" stroke-opacity="0.85"/><line x1="166.56" y1="146.14" x2="173.44" y2="139.26" stroke="#c8102e" stroke-width="0.9" stroke-opacity="0.85"/>
<circle cx="170" cy="142.7" r="0.9" fill="#c8102e" fill-opacity="0.7"/>
<line x1="162.60" y1="146.50" x2="170.00" y2="146.50" stroke="#c8102e" stroke-width="0.9" stroke-opacity="0.85"/><line x1="166.30" y1="142.80" x2="166.30" y2="150.20" stroke="#c8102e" stroke-width="0.9" stroke-opacity="0.85"/><line x1="162.86" y1="143.06" x2="169.74" y2="149.94" stroke="#c8102e" stroke-width="0.9" stroke-opacity="0.85"/><line x1="162.86" y1="149.94" x2="169.74" y2="143.06" stroke="#c8102e" stroke-width="0.9" stroke-opacity="0.85"/>
<circle cx="166.3" cy="146.5" r="0.9" fill="#c8102e" fill-opacity="0.7"/>
<line x1="176.30" y1="122.40" x2="183.70" y2="122.40" stroke="#c8102e" stroke-width="0.9" stroke-opacity="0.85"/><line x1="180.00" y1="118.70" x2="180.00" y2="126.10" stroke="#c8102e" stroke-width="0.9" stroke-opacity="0.85"/><line x1="176.56" y1="118.96" x2="183.44" y2="125.84" stroke="#c8102e" stroke-width="0.9" stroke-opacity="0.85"/><line x1="176.56" y1="125.84" x2="183.44" y2="118.96" stroke="#c8102e" stroke-width="0.9" stroke-opacity="0.85"/>
<circle cx="180" cy="122.4" r="0.9" fill="#c8102e" fill-opacity="0.7"/>
<line x1="187.00" y1="149.80" x2="194.40" y2="149.80" stroke="#c8102e" stroke-width="0.9" stroke-opacity="0.85"/><line x1="190.70" y1="146.10" x2="190.70" y2="153.50" stroke="#c8102e" stroke-width="0.9" stroke-opacity="0.85"/><line x1="187.26" y1="146.36" x2="194.14" y2="153.24" stroke="#c8102e" stroke-width="0.9" stroke-opacity="0.85"/><line x1="187.26" y1="153.24" x2="194.14" y2="146.36" stroke="#c8102e" stroke-width="0.9" stroke-opacity="0.85"/>
<circle cx="190.7" cy="149.8" r="0.9" fill="#c8102e" fill-opacity="0.7"/>
<line x1="188.90" y1="169.80" x2="196.30" y2="169.80" stroke="#c8102e" stroke-width="0.9" stroke-opacity="0.85"/><line x1="192.60" y1="166.10" x2="192.60" y2="173.50" stroke="#c8102e" stroke-width="0.9" stroke-opacity="0.85"/><line x1="189.16" y1="166.36" x2="196.04" y2="173.24" stroke="#c8102e" stroke-width="0.9" stroke-opacity="0.85"/><line x1="189.16" y1="173.24" x2="196.04" y2="166.36" stroke="#c8102e" stroke-width="0.9" stroke-opacity="0.85"/>
<circle cx="192.6" cy="169.8" r="0.9" fill="#c8102e" fill-opacity="0.7"/>
<line x1="230.60" y1="217.50" x2="238.00" y2="217.50" stroke="#c8102e" stroke-width="0.9" stroke-opacity="0.85"/><line x1="234.30" y1="213.80" x2="234.30" y2="221.20" stroke="#c8102e" stroke-width="0.9" stroke-opacity="0.85"/><line x1="230.86" y1="214.06" x2="237.74" y2="220.94" stroke="#c8102e" stroke-width="0.9" stroke-opacity="0.85"/><line x1="230.86" y1="220.94" x2="237.74" y2="214.06" stroke="#c8102e" stroke-width="0.9" stroke-opacity="0.85"/>
<circle cx="234.3" cy="217.5" r="0.9" fill="#c8102e" fill-opacity="0.7"/>
<line x1="247.20" y1="130.50" x2="254.60" y2="130.50" stroke="#c8102e" stroke-width="0.9" stroke-opacity="0.85"/><line x1="250.90" y1="126.80" x2="250.90" y2="134.20" stroke="#c8102e" stroke-width="0.9" stroke-opacity="0.85"/><line x1="247.46" y1="127.06" x2="254.34" y2="133.94" stroke="#c8102e" stroke-width="0.9" stroke-opacity="0.85"/><line x1="247.46" y1="133.94" x2="254.34" y2="127.06" stroke="#c8102e" stroke-width="0.9" stroke-opacity="0.85"/>
<circle cx="250.9" cy="130.5" r="0.9" fill="#c8102e" fill-opacity="0.7"/>
<rect x="245.50" y="125.10" width="10.8" height="10.8" fill="none" stroke="#444" stroke-width="1"/>
<line x1="262.30" y1="129.60" x2="269.70" y2="129.60" stroke="#c8102e" stroke-width="0.9" stroke-opacity="0.85"/><line x1="266.00" y1="125.90" x2="266.00" y2="133.30" stroke="#c8102e" stroke-width="0.9" stroke-opacity="0.85"/><line x1="262.56" y1="126.16" x2="269.44" y2="133.04" stroke="#c8102e" stroke-width="0.9" stroke-opacity="0.85"/><line x1="262.56" y1="133.04" x2="269.44" y2="126.16" stroke="#c8102e" stroke-width="0.9" stroke-opacity="0.85"/>
<circle cx="266" cy="129.6" r="0.9" fill="#c8102e" fill-opacity="0.7"/>
<rect x="260.60" y="124.20" width="10.8" height="10.8" fill="none" stroke="#444" stroke-width="1"/>
<line x1="320.90" y1="95.20" x2="328.30" y2="95.20" stroke="#c8102e" stroke-width="0.9" stroke-opacity="0.85"/><line x1="324.60" y1="91.50" x2="324.60" y2="98.90" stroke="#c8102e" stroke-width="0.9" stroke-opacity="0.85"/><line x1="321.16" y1="91.76" x2="328.04" y2="98.64" stroke="#c8102e" stroke-width="0.9" stroke-opacity="0.85"/><line x1="321.16" y1="98.64" x2="328.04" y2="91.76" stroke="#c8102e" stroke-width="0.9" stroke-opacity="0.85"/>
<circle cx="324.6" cy="95.2" r="0.9" fill="#c8102e" fill-opacity="0.7"/>
<rect x="319.20" y="89.80" width="10.8" height="10.8" fill="none" stroke="#444" stroke-width="1"/>
<line x1="287.40" y1="143.60" x2="294.80" y2="143.60" stroke="#c8102e" stroke-width="0.9" stroke-opacity="0.85"/><line x1="291.10" y1="139.90" x2="291.10" y2="147.30" stroke="#c8102e" stroke-width="0.9" stroke-opacity="0.85"/><line x1="287.66" y1="140.16" x2="294.54" y2="147.04" stroke="#c8102e" stroke-width="0.9" stroke-opacity="0.85"/><line x1="287.66" y1="147.04" x2="294.54" y2="140.16" stroke="#c8102e" stroke-width="0.9" stroke-opacity="0.85"/>
<circle cx="291.1" cy="143.6" r="0.9" fill="#c8102e" fill-opacity="0.7"/>
<rect x="285.70" y="138.20" width="10.8" height="10.8" fill="none" stroke="#444" stroke-width="1"/>
<line x1="305.20" y1="154.60" x2="312.60" y2="154.60" stroke="#c8102e" stroke-width="0.9" stroke-opacity="0.85"/><line x1="308.90" y1="150.90" x2="308.90" y2="158.30" stroke="#c8102e" stroke-width="0.9" stroke-opacity="0.85"/><line x1="305.46" y1="151.16" x2="312.34" y2="158.04" stroke="#c8102e" stroke-width="0.9" stroke-opacity="0.85"/><line x1="305.46" y1="158.04" x2="312.34" y2="151.16" stroke="#c8102e" stroke-width="0.9" stroke-opacity="0.85"/>
<circle cx="308.9" cy="154.6" r="0.9" fill="#c8102e" fill-opacity="0.7"/>
<rect x="303.50" y="149.20" width="10.8" height="10.8" fill="none" stroke="#444" stroke-width="1"/>
<circle cx="245.1" cy="131.9" r="3.7" fill="#1b80d6"/>
<circle cx="267.2" cy="148.1" r="3.7" fill="#1b80d6"/>
<circle cx="309.4" cy="63.4" r="3.7" fill="#1b80d6"/>
<circle cx="331.3" cy="73.1" r="3.7" fill="#1b80d6"/>
<circle cx="307.2" cy="92.2" r="3.7" fill="#1b80d6"/>
<circle cx="307.2" cy="165.9" r="3.7" fill="#1b80d6"/>
<line x1="119.60" y1="161.00" x2="127.00" y2="161.00" stroke="#1b7fd5" stroke-width="0.9" stroke-opacity="0.8"/><line x1="123.30" y1="157.30" x2="123.30" y2="164.70" stroke="#1b7fd5" stroke-width="0.9" stroke-opacity="0.8"/><line x1="119.86" y1="157.56" x2="126.74" y2="164.44" stroke="#1b7fd5" stroke-width="0.9" stroke-opacity="0.8"/><line x1="119.86" y1="164.44" x2="126.74" y2="157.56" stroke="#1b7fd5" stroke-width="0.9" stroke-opacity="0.8"/>
<circle cx="123.3" cy="161" r="0.9" fill="#1b7fd5" fill-opacity="0.7"/>
<line x1="130.70" y1="159.60" x2="138.10" y2="159.60" stroke="#1b7fd5" stroke-width="0.9" stroke-opacity="0.8"/><line x1="134.40" y1="155.90" x2="134.40" y2="163.30" stroke="#1b7fd5" stroke-width="0.9" stroke-opacity="0.8"/><line x1="130.96" y1="156.16" x2="137.84" y2="163.04" stroke="#1b7fd5" stroke-width="0.9" stroke-opacity="0.8"/><line x1="130.96" y1="163.04" x2="137.84" y2="156.16" stroke="#1b7fd5" stroke-width="0.9" stroke-opacity="0.8"/>
<circle cx="134.4" cy="159.6" r="0.9" fill="#1b7fd5" fill-opacity="0.7"/>
<line x1="142.00" y1="167.20" x2="149.40" y2="167.20" stroke="#1b7fd5" stroke-width="0.9" stroke-opacity="0.8"/><line x1="145.70" y1="163.50" x2="145.70" y2="170.90" stroke="#1b7fd5" stroke-width="0.9" stroke-opacity="0.8"/><line x1="142.26" y1="163.76" x2="149.14" y2="170.64" stroke="#1b7fd5" stroke-width="0.9" stroke-opacity="0.8"/><line x1="142.26" y1="170.64" x2="149.14" y2="163.76" stroke="#1b7fd5" stroke-width="0.9" stroke-opacity="0.8"/>
<circle cx="145.7" cy="167.2" r="0.9" fill="#1b7fd5" fill-opacity="0.7"/>
<line x1="186.10" y1="116.50" x2="193.50" y2="116.50" stroke="#1b7fd5" stroke-width="0.9" stroke-opacity="0.8"/><line x1="189.80" y1="112.80" x2="189.80" y2="120.20" stroke="#1b7fd5" stroke-width="0.9" stroke-opacity="0.8"/><line x1="186.36" y1="113.06" x2="193.24" y2="119.94" stroke="#1b7fd5" stroke-width="0.9" stroke-opacity="0.8"/><line x1="186.36" y1="119.94" x2="193.24" y2="113.06" stroke="#1b7fd5" stroke-width="0.9" stroke-opacity="0.8"/>
<circle cx="189.8" cy="116.5" r="0.9" fill="#1b7fd5" fill-opacity="0.7"/>
<line x1="182.00" y1="141.30" x2="189.40" y2="141.30" stroke="#1b7fd5" stroke-width="0.9" stroke-opacity="0.8"/><line x1="185.70" y1="137.60" x2="185.70" y2="145.00" stroke="#1b7fd5" stroke-width="0.9" stroke-opacity="0.8"/><line x1="182.26" y1="137.86" x2="189.14" y2="144.74" stroke="#1b7fd5" stroke-width="0.9" stroke-opacity="0.8"/><line x1="182.26" y1="144.74" x2="189.14" y2="137.86" stroke="#1b7fd5" stroke-width="0.9" stroke-opacity="0.8"/>
<circle cx="185.7" cy="141.3" r="0.9" fill="#1b7fd5" fill-opacity="0.7"/>
<line x1="240.10" y1="148.10" x2="247.50" y2="148.10" stroke="#1b7fd5" stroke-width="0.9" stroke-opacity="0.8"/><line x1="243.80" y1="144.40" x2="243.80" y2="151.80" stroke="#1b7fd5" stroke-width="0.9" stroke-opacity="0.8"/><line x1="240.36" y1="144.66" x2="247.24" y2="151.54" stroke="#1b7fd5" stroke-width="0.9" stroke-opacity="0.8"/><line x1="240.36" y1="151.54" x2="247.24" y2="144.66" stroke="#1b7fd5" stroke-width="0.9" stroke-opacity="0.8"/>
<circle cx="243.8" cy="148.1" r="0.9" fill="#1b7fd5" fill-opacity="0.7"/>
<line x1="239.80" y1="155.30" x2="247.20" y2="155.30" stroke="#1b7fd5" stroke-width="0.9" stroke-opacity="0.8"/><line x1="243.50" y1="151.60" x2="243.50" y2="159.00" stroke="#1b7fd5" stroke-width="0.9" stroke-opacity="0.8"/><line x1="240.06" y1="151.86" x2="246.94" y2="158.74" stroke="#1b7fd5" stroke-width="0.9" stroke-opacity="0.8"/><line x1="240.06" y1="158.74" x2="246.94" y2="151.86" stroke="#1b7fd5" stroke-width="0.9" stroke-opacity="0.8"/>
<circle cx="243.5" cy="155.3" r="0.9" fill="#1b7fd5" fill-opacity="0.7"/>
<line x1="249.10" y1="92.70" x2="256.50" y2="92.70" stroke="#1b7fd5" stroke-width="0.9" stroke-opacity="0.8"/><line x1="252.80" y1="89.00" x2="252.80" y2="96.40" stroke="#1b7fd5" stroke-width="0.9" stroke-opacity="0.8"/><line x1="249.36" y1="89.26" x2="256.24" y2="96.14" stroke="#1b7fd5" stroke-width="0.9" stroke-opacity="0.8"/><line x1="249.36" y1="96.14" x2="256.24" y2="89.26" stroke="#1b7fd5" stroke-width="0.9" stroke-opacity="0.8"/>
<circle cx="252.8" cy="92.7" r="0.9" fill="#1b7fd5" fill-opacity="0.7"/>
<rect x="247.40" y="87.30" width="10.8" height="10.8" fill="none" stroke="#444" stroke-width="1"/>
<line x1="262.30" y1="49.30" x2="269.70" y2="49.30" stroke="#1b7fd5" stroke-width="0.9" stroke-opacity="0.8"/><line x1="266.00" y1="45.60" x2="266.00" y2="53.00" stroke="#1b7fd5" stroke-width="0.9" stroke-opacity="0.8"/><line x1="262.56" y1="45.86" x2="269.44" y2="52.74" stroke="#1b7fd5" stroke-width="0.9" stroke-opacity="0.8"/><line x1="262.56" y1="52.74" x2="269.44" y2="45.86" stroke="#1b7fd5" stroke-width="0.9" stroke-opacity="0.8"/>
<circle cx="266" cy="49.3" r="0.9" fill="#1b7fd5" fill-opacity="0.7"/>
<rect x="260.60" y="43.90" width="10.8" height="10.8" fill="none" stroke="#444" stroke-width="1"/>
<line x1="253.80" y1="157.70" x2="261.20" y2="157.70" stroke="#1b7fd5" stroke-width="0.9" stroke-opacity="0.8"/><line x1="257.50" y1="154.00" x2="257.50" y2="161.40" stroke="#1b7fd5" stroke-width="0.9" stroke-opacity="0.8"/><line x1="254.06" y1="154.26" x2="260.94" y2="161.14" stroke="#1b7fd5" stroke-width="0.9" stroke-opacity="0.8"/><line x1="254.06" y1="161.14" x2="260.94" y2="154.26" stroke="#1b7fd5" stroke-width="0.9" stroke-opacity="0.8"/>
<circle cx="257.5" cy="157.7" r="0.9" fill="#1b7fd5" fill-opacity="0.7"/>
<rect x="252.10" y="152.30" width="10.8" height="10.8" fill="none" stroke="#444" stroke-width="1"/>
<line x1="201.90" y1="97.00" x2="209.30" y2="97.00" stroke="#c8102e" stroke-width="0.9" stroke-opacity="0.85"/><line x1="205.60" y1="93.30" x2="205.60" y2="100.70" stroke="#c8102e" stroke-width="0.9" stroke-opacity="0.85"/><line x1="202.16" y1="93.56" x2="209.04" y2="100.44" stroke="#c8102e" stroke-width="0.9" stroke-opacity="0.85"/><line x1="202.16" y1="100.44" x2="209.04" y2="93.56" stroke="#c8102e" stroke-width="0.9" stroke-opacity="0.85"/>
<circle cx="205.6" cy="97" r="0.9" fill="#c8102e" fill-opacity="0.7"/>
<line x1="230.40" y1="92.80" x2="237.80" y2="92.80" stroke="#c8102e" stroke-width="0.9" stroke-opacity="0.85"/><line x1="234.10" y1="89.10" x2="234.10" y2="96.50" stroke="#c8102e" stroke-width="0.9" stroke-opacity="0.85"/><line x1="230.66" y1="89.36" x2="237.54" y2="96.24" stroke="#c8102e" stroke-width="0.9" stroke-opacity="0.85"/><line x1="230.66" y1="96.24" x2="237.54" y2="89.36" stroke="#c8102e" stroke-width="0.9" stroke-opacity="0.85"/>
<circle cx="234.1" cy="92.8" r="0.9" fill="#c8102e" fill-opacity="0.7"/>
<line x1="223.50" y1="102.30" x2="230.90" y2="102.30" stroke="#c8102e" stroke-width="0.9" stroke-opacity="0.85"/><line x1="227.20" y1="98.60" x2="227.20" y2="106.00" stroke="#c8102e" stroke-width="0.9" stroke-opacity="0.85"/><line x1="223.76" y1="98.86" x2="230.64" y2="105.74" stroke="#c8102e" stroke-width="0.9" stroke-opacity="0.85"/><line x1="223.76" y1="105.74" x2="230.64" y2="98.86" stroke="#c8102e" stroke-width="0.9" stroke-opacity="0.85"/>
<circle cx="227.2" cy="102.3" r="0.9" fill="#c8102e" fill-opacity="0.7"/>
<line x1="214.00" y1="119.20" x2="221.40" y2="119.20" stroke="#c8102e" stroke-width="0.9" stroke-opacity="0.85"/><line x1="217.70" y1="115.50" x2="217.70" y2="122.90" stroke="#c8102e" stroke-width="0.9" stroke-opacity="0.85"/><line x1="214.26" y1="115.76" x2="221.14" y2="122.64" stroke="#c8102e" stroke-width="0.9" stroke-opacity="0.85"/><line x1="214.26" y1="122.64" x2="221.14" y2="115.76" stroke="#c8102e" stroke-width="0.9" stroke-opacity="0.85"/>
<circle cx="217.7" cy="119.2" r="0.9" fill="#c8102e" fill-opacity="0.7"/>
<line x1="221.90" y1="125.60" x2="229.30" y2="125.60" stroke="#c8102e" stroke-width="0.9" stroke-opacity="0.85"/><line x1="225.60" y1="121.90" x2="225.60" y2="129.30" stroke="#c8102e" stroke-width="0.9" stroke-opacity="0.85"/><line x1="222.16" y1="122.16" x2="229.04" y2="129.04" stroke="#c8102e" stroke-width="0.9" stroke-opacity="0.85"/><line x1="222.16" y1="129.04" x2="229.04" y2="122.16" stroke="#c8102e" stroke-width="0.9" stroke-opacity="0.85"/>
<circle cx="225.6" cy="125.6" r="0.9" fill="#c8102e" fill-opacity="0.7"/>
<line x1="205.30" y1="131.60" x2="212.70" y2="131.60" stroke="#c8102e" stroke-width="0.9" stroke-opacity="0.85"/><line x1="209.00" y1="127.90" x2="209.00" y2="135.30" stroke="#c8102e" stroke-width="0.9" stroke-opacity="0.85"/><line x1="205.56" y1="128.16" x2="212.44" y2="135.04" stroke="#c8102e" stroke-width="0.9" stroke-opacity="0.85"/><line x1="205.56" y1="135.04" x2="212.44" y2="128.16" stroke="#c8102e" stroke-width="0.9" stroke-opacity="0.85"/>
<circle cx="209" cy="131.6" r="0.9" fill="#c8102e" fill-opacity="0.7"/>
<line x1="213.30" y1="137.50" x2="220.70" y2="137.50" stroke="#c8102e" stroke-width="0.9" stroke-opacity="0.85"/><line x1="217.00" y1="133.80" x2="217.00" y2="141.20" stroke="#c8102e" stroke-width="0.9" stroke-opacity="0.85"/><line x1="213.56" y1="134.06" x2="220.44" y2="140.94" stroke="#c8102e" stroke-width="0.9" stroke-opacity="0.85"/><line x1="213.56" y1="140.94" x2="220.44" y2="134.06" stroke="#c8102e" stroke-width="0.9" stroke-opacity="0.85"/>
<circle cx="217" cy="137.5" r="0.9" fill="#c8102e" fill-opacity="0.7"/>
<line x1="223.40" y1="136.10" x2="230.80" y2="136.10" stroke="#c8102e" stroke-width="0.9" stroke-opacity="0.85"/><line x1="227.10" y1="132.40" x2="227.10" y2="139.80" stroke="#c8102e" stroke-width="0.9" stroke-opacity="0.85"/><line x1="223.66" y1="132.66" x2="230.54" y2="139.54" stroke="#c8102e" stroke-width="0.9" stroke-opacity="0.85"/><line x1="223.66" y1="139.54" x2="230.54" y2="132.66" stroke="#c8102e" stroke-width="0.9" stroke-opacity="0.85"/>
<circle cx="227.1" cy="136.1" r="0.9" fill="#c8102e" fill-opacity="0.7"/>
<line x1="213.40" y1="152.00" x2="220.80" y2="152.00" stroke="#c8102e" stroke-width="0.9" stroke-opacity="0.85"/><line x1="217.10" y1="148.30" x2="217.10" y2="155.70" stroke="#c8102e" stroke-width="0.9" stroke-opacity="0.85"/><line x1="213.66" y1="148.56" x2="220.54" y2="155.44" stroke="#c8102e" stroke-width="0.9" stroke-opacity="0.85"/><line x1="213.66" y1="155.44" x2="220.54" y2="148.56" stroke="#c8102e" stroke-width="0.9" stroke-opacity="0.85"/>
<circle cx="217.1" cy="152" r="0.9" fill="#c8102e" fill-opacity="0.7"/>
<circle cx="236" cy="108.1" r="3.7" fill="#b3121f"/>
<line x1="214.60" y1="117.50" x2="222.00" y2="117.50" stroke="#1b7fd5" stroke-width="0.9" stroke-opacity="0.8"/><line x1="218.30" y1="113.80" x2="218.30" y2="121.20" stroke="#1b7fd5" stroke-width="0.9" stroke-opacity="0.8"/><line x1="214.86" y1="114.06" x2="221.74" y2="120.94" stroke="#1b7fd5" stroke-width="0.9" stroke-opacity="0.8"/><line x1="214.86" y1="120.94" x2="221.74" y2="114.06" stroke="#1b7fd5" stroke-width="0.9" stroke-opacity="0.8"/>
<circle cx="218.3" cy="117.5" r="0.9" fill="#1b7fd5" fill-opacity="0.7"/>
<line x1="207.30" y1="124.60" x2="214.70" y2="124.60" stroke="#1b7fd5" stroke-width="0.9" stroke-opacity="0.8"/><line x1="211.00" y1="120.90" x2="211.00" y2="128.30" stroke="#1b7fd5" stroke-width="0.9" stroke-opacity="0.8"/><line x1="207.56" y1="121.16" x2="214.44" y2="128.04" stroke="#1b7fd5" stroke-width="0.9" stroke-opacity="0.8"/><line x1="207.56" y1="128.04" x2="214.44" y2="121.16" stroke="#1b7fd5" stroke-width="0.9" stroke-opacity="0.8"/>
<circle cx="211.0" cy="124.6" r="0.9" fill="#1b7fd5" fill-opacity="0.7"/>
<line x1="209.80" y1="130.70" x2="217.20" y2="130.70" stroke="#1b7fd5" stroke-width="0.9" stroke-opacity="0.8"/><line x1="213.50" y1="127.00" x2="213.50" y2="134.40" stroke="#1b7fd5" stroke-width="0.9" stroke-opacity="0.8"/><line x1="210.06" y1="127.26" x2="216.94" y2="134.14" stroke="#1b7fd5" stroke-width="0.9" stroke-opacity="0.8"/><line x1="210.06" y1="134.14" x2="216.94" y2="127.26" stroke="#1b7fd5" stroke-width="0.9" stroke-opacity="0.8"/>
<circle cx="213.5" cy="130.7" r="0.9" fill="#1b7fd5" fill-opacity="0.7"/>
<line x1="227.60" y1="121.50" x2="235.00" y2="121.50" stroke="#1b7fd5" stroke-width="0.9" stroke-opacity="0.8"/><line x1="231.30" y1="117.80" x2="231.30" y2="125.20" stroke="#1b7fd5" stroke-width="0.9" stroke-opacity="0.8"/><line x1="227.86" y1="118.06" x2="234.74" y2="124.94" stroke="#1b7fd5" stroke-width="0.9" stroke-opacity="0.8"/><line x1="227.86" y1="124.94" x2="234.74" y2="118.06" stroke="#1b7fd5" stroke-width="0.9" stroke-opacity="0.8"/>
<circle cx="231.3" cy="121.5" r="0.9" fill="#1b7fd5" fill-opacity="0.7"/>
<line x1="210.50" y1="141.70" x2="217.90" y2="141.70" stroke="#1b7fd5" stroke-width="0.9" stroke-opacity="0.8"/><line x1="214.20" y1="138.00" x2="214.20" y2="145.40" stroke="#1b7fd5" stroke-width="0.9" stroke-opacity="0.8"/><line x1="210.76" y1="138.26" x2="217.64" y2="145.14" stroke="#1b7fd5" stroke-width="0.9" stroke-opacity="0.8"/><line x1="210.76" y1="145.14" x2="217.64" y2="138.26" stroke="#1b7fd5" stroke-width="0.9" stroke-opacity="0.8"/>
<circle cx="214.2" cy="141.7" r="0.9" fill="#1b7fd5" fill-opacity="0.7"/>
<line x1="227.60" y1="141.80" x2="235.00" y2="141.80" stroke="#1b7fd5" stroke-width="0.9" stroke-opacity="0.8"/><line x1="231.30" y1="138.10" x2="231.30" y2="145.50" stroke="#1b7fd5" stroke-width="0.9" stroke-opacity="0.8"/><line x1="227.86" y1="138.36" x2="234.74" y2="145.24" stroke="#1b7fd5" stroke-width="0.9" stroke-opacity="0.8"/><line x1="227.86" y1="145.24" x2="234.74" y2="138.36" stroke="#1b7fd5" stroke-width="0.9" stroke-opacity="0.8"/>
<circle cx="231.3" cy="141.8" r="0.9" fill="#1b7fd5" fill-opacity="0.7"/>
<line x1="244.70" y1="106.30" x2="252.10" y2="106.30" stroke="#1b7fd5" stroke-width="0.9" stroke-opacity="0.8"/><line x1="248.40" y1="102.60" x2="248.40" y2="110.00" stroke="#1b7fd5" stroke-width="0.9" stroke-opacity="0.8"/><line x1="244.96" y1="102.86" x2="251.84" y2="109.74" stroke="#1b7fd5" stroke-width="0.9" stroke-opacity="0.8"/><line x1="244.96" y1="109.74" x2="251.84" y2="102.86" stroke="#1b7fd5" stroke-width="0.9" stroke-opacity="0.8"/>
<circle cx="248.4" cy="106.3" r="0.9" fill="#1b7fd5" fill-opacity="0.7"/>
<line x1="183.50" y1="107.30" x2="190.90" y2="107.30" stroke="#1b7fd5" stroke-width="0.9" stroke-opacity="0.8"/><line x1="187.20" y1="103.60" x2="187.20" y2="111.00" stroke="#1b7fd5" stroke-width="0.9" stroke-opacity="0.8"/><line x1="183.76" y1="103.86" x2="190.64" y2="110.74" stroke="#1b7fd5" stroke-width="0.9" stroke-opacity="0.8"/><line x1="183.76" y1="110.74" x2="190.64" y2="103.86" stroke="#1b7fd5" stroke-width="0.9" stroke-opacity="0.8"/>
<circle cx="187.2" cy="107.3" r="0.9" fill="#1b7fd5" fill-opacity="0.7"/>
<rect x="280.80" y="115.80" width="10.8" height="10.8" fill="none" stroke="#444" stroke-width="1"/>
</g>
<path d="M67.51,249.0 v-2.6 M67.51,0.5 v2.6 M78.24,249.0 v-2.6 M78.24,0.5 v2.6 M86.56,249.0 v-2.6 M86.56,0.5 v2.6 M93.35,249.0 v-2.6 M93.35,0.5 v2.6 M99.10,249.0 v-2.6 M99.10,0.5 v2.6 M104.08,249.0 v-2.6 M104.08,0.5 v2.6 M108.47,249.0 v-2.6 M108.47,0.5 v2.6 M112.40,249.0 v-5 M112.40,0.5 v5 M138.24,249.0 v-2.6 M138.24,0.5 v2.6 M153.36,249.0 v-2.6 M153.36,0.5 v2.6 M164.09,249.0 v-2.6 M164.09,0.5 v2.6 M172.41,249.0 v-2.6 M172.41,0.5 v2.6 M179.20,249.0 v-2.6 M179.20,0.5 v2.6 M184.95,249.0 v-2.6 M184.95,0.5 v2.6 M189.93,249.0 v-2.6 M189.93,0.5 v2.6 M194.32,249.0 v-2.6 M194.32,0.5 v2.6 M198.25,249.0 v-5 M198.25,0.5 v5 M224.09,249.0 v-2.6 M224.09,0.5 v2.6 M239.21,249.0 v-2.6 M239.21,0.5 v2.6 M249.94,249.0 v-2.6 M249.94,0.5 v2.6 M258.26,249.0 v-2.6 M258.26,0.5 v2.6 M265.05,249.0 v-2.6 M265.05,0.5 v2.6 M270.80,249.0 v-2.6 M270.80,0.5 v2.6 M275.78,249.0 v-2.6 M275.78,0.5 v2.6 M280.17,249.0 v-2.6 M280.17,0.5 v2.6 M284.10,249.0 v-5 M284.10,0.5 v5 M309.94,249.0 v-2.6 M309.94,0.5 v2.6 M325.06,249.0 v-2.6 M325.06,0.5 v2.6 M335.79,249.0 v-2.6 M335.79,0.5 v2.6 M344.11,249.0 v-2.6 M344.11,0.5 v2.6 M350.90,249.0 v-2.6 M350.90,0.5 v2.6 M67.5,249.00 h6 M351.0,249.00 h-6 M67.5,227.48 h2.6 M351.0,227.48 h-2.6 M67.5,214.89 h2.6 M351.0,214.89 h-2.6 M67.5,205.95 h2.6 M351.0,205.95 h-2.6 M67.5,199.02 h2.6 M351.0,199.02 h-2.6 M67.5,193.36 h2.6 M351.0,193.36 h-2.6 M67.5,188.58 h2.6 M351.0,188.58 h-2.6 M67.5,184.43 h2.6 M351.0,184.43 h-2.6 M67.5,180.77 h2.6 M351.0,180.77 h-2.6 M67.5,177.50 h6 M351.0,177.50 h-6 M67.5,155.98 h2.6 M351.0,155.98 h-2.6 M67.5,143.39 h2.6 M351.0,143.39 h-2.6 M67.5,134.45 h2.6 M351.0,134.45 h-2.6 M67.5,127.52 h2.6 M351.0,127.52 h-2.6 M67.5,121.86 h2.6 M351.0,121.86 h-2.6 M67.5,117.08 h2.6 M351.0,117.08 h-2.6 M67.5,112.93 h2.6 M351.0,112.93 h-2.6 M67.5,109.27 h2.6 M351.0,109.27 h-2.6 M67.5,106.00 h6 M351.0,106.00 h-6 M67.5,84.48 h2.6 M351.0,84.48 h-2.6 M67.5,71.89 h2.6 M351.0,71.89 h-2.6 M67.5,62.95 h2.6 M351.0,62.95 h-2.6 M67.5,56.02 h2.6 M351.0,56.02 h-2.6 M67.5,50.36 h2.6 M351.0,50.36 h-2.6 M67.5,45.58 h2.6 M351.0,45.58 h-2.6 M67.5,41.43 h2.6 M351.0,41.43 h-2.6 M67.5,37.77 h2.6 M351.0,37.77 h-2.6 M67.5,34.50 h6 M351.0,34.50 h-6 M67.5,12.98 h2.6 M351.0,12.98 h-2.6" stroke="#111" stroke-width="1.2" fill="none"/>
<rect x="67.5" y="0.5" width="283.5" height="248.5" fill="none" stroke="#111" stroke-width="1.3"/>
<text transform="translate(26.30,40.40) scale(1.07,1)" font-family="Liberation Sans, sans-serif" font-size="14" letter-spacing="0.65" fill="#1a1a1a">1000</text>
<text transform="translate(35.60,112.10) scale(1.07,1)" font-family="Liberation Sans, sans-serif" font-size="14" letter-spacing="0.65" fill="#1a1a1a">100</text>
<text transform="translate(44.80,183.50) scale(1.07,1)" font-family="Liberation Sans, sans-serif" font-size="14" letter-spacing="0.65" fill="#1a1a1a">10</text>
<text transform="translate(53.60,249.00) scale(1.07,1)" font-family="Liberation Sans, sans-serif" font-size="14" letter-spacing="0.65" fill="#1a1a1a">1</text>
<text transform="translate(100.80,270.10) scale(1.07,1)" font-family="Liberation Sans, sans-serif" font-size="14" letter-spacing="0.65" fill="#1a1a1a">10</text>
<text transform="translate(118.80,262.90) scale(1.0,1)" font-family="Liberation Sans, sans-serif" font-size="9" letter-spacing="1.1" fill="#1a1a1a">9</text>
<text transform="translate(184.00,270.10) scale(1.07,1)" font-family="Liberation Sans, sans-serif" font-size="14" letter-spacing="0.65" fill="#1a1a1a">10</text>
<text transform="translate(201.70,262.90) scale(1.0,1)" font-family="Liberation Sans, sans-serif" font-size="9" letter-spacing="1.1" fill="#1a1a1a">10</text>
<text transform="translate(269.80,270.10) scale(1.07,1)" font-family="Liberation Sans, sans-serif" font-size="14" letter-spacing="0.65" fill="#1a1a1a">10</text>
<text transform="translate(288.00,262.90) scale(1.0,1)" font-family="Liberation Sans, sans-serif" font-size="9" letter-spacing="1.1" fill="#1a1a1a">11</text>
<text x="142.5" y="288.8" font-family="Liberation Sans, sans-serif" font-size="14" letter-spacing="0.95" fill="#1a1a1a">Stellar</text>
<text x="196.3" y="288.8" font-family="Liberation Sans, sans-serif" font-size="14" letter-spacing="1.5" fill="#1a1a1a">mass</text>
<text x="242.4" y="288.8" font-family="Liberation Sans, sans-serif" font-size="14" fill="#1a1a1a">[</text>
<text x="249.0" y="288.3" font-family="Liberation Sans, sans-serif" font-size="14" fill="#1a1a1a">M</text>
<circle cx="264.1" cy="292.1" r="3.0" fill="none" stroke="#1a1a1a" stroke-width="0.9"/><circle cx="264.1" cy="292.1" r="0.7" fill="#1a1a1a"/>
<text x="269.8" y="288.8" font-family="Liberation Sans, sans-serif" font-size="14" fill="#1a1a1a">]</text>
<g transform="translate(12.6,0) rotate(-90)">
<text x="-171.2" y="0" font-family="Liberation Sans, sans-serif" font-size="14" letter-spacing="1.3" fill="#1a1a1a">SFR</text>
<text x="-135.0" y="0" font-family="Liberation Sans, sans-serif" font-size="14" fill="#1a1a1a">[</text>
<text x="-129.0" y="0" font-family="Liberation Sans, sans-serif" font-size="14" fill="#1a1a1a">M</text>
<line x1="-111" y1="1.5" x2="-99.8" y2="-11" stroke="#1a1a1a" stroke-width="1.1"/>
<text x="-98.7" y="0" font-family="Liberation Sans, sans-serif" font-size="14" letter-spacing="0.6" fill="#1a1a1a">yr</text>
<text x="-85.6" y="0" font-family="Liberation Sans, sans-serif" font-size="14" fill="#1a1a1a">]</text>
</g>
<circle cx="16.1" cy="113.8" r="2.6" fill="none" stroke="#1a1a1a" stroke-width="0.9"/><circle cx="16.1" cy="113.8" r="0.7" fill="#1a1a1a"/>
<text transform="translate(93.50,19.80) scale(1.0,1)" font-family="Liberation Sans, sans-serif" font-size="11" letter-spacing="1.25" fill="#505050">z=2.10</text>
<text transform="translate(138.00,19.80) scale(1.0,1)" font-family="Liberation Sans, sans-serif" font-size="11" letter-spacing="0.65" fill="#505050">detections</text>
<text transform="translate(93.50,35.40) scale(1.0,1)" font-family="Liberation Sans, sans-serif" font-size="11" letter-spacing="1.25" fill="#505050">z=2.10</text>
<text transform="translate(137.70,35.40) scale(1.0,1)" font-family="Liberation Sans, sans-serif" font-size="11" letter-spacing="0.85" fill="#505050">non–detections</text>
<text transform="translate(93.50,50.80) scale(1.0,1)" font-family="Liberation Sans, sans-serif" font-size="11" letter-spacing="1.25" fill="#505050">z=2.47</text>
<text transform="translate(138.00,50.80) scale(1.0,1)" font-family="Liberation Sans, sans-serif" font-size="11" letter-spacing="0.65" fill="#505050">detections</text>
<text transform="translate(93.50,64.40) scale(1.0,1)" font-family="Liberation Sans, sans-serif" font-size="11" letter-spacing="1.25" fill="#505050">z=2.47</text>
<text transform="translate(137.70,64.40) scale(1.0,1)" font-family="Liberation Sans, sans-serif" font-size="11" letter-spacing="0.85" fill="#505050">non–detections</text>
<text transform="translate(92.60,80.40) scale(1.0,1)" font-family="Liberation Sans, sans-serif" font-size="11" letter-spacing="0.3" fill="#505050">Massive</text>
<text transform="translate(139.00,80.40) scale(1.0,1)" font-family="Liberation Sans, sans-serif" font-size="11" letter-spacing="1.05" fill="#505050">gas–poor</text>
<circle cx="81.45" cy="18.1" r="3.75" fill="#b3121f"/>
<line x1="77.80" y1="34.50" x2="85.20" y2="34.50" stroke="#c8102e" stroke-width="0.9" stroke-opacity="0.55"/><line x1="81.50" y1="30.80" x2="81.50" y2="38.20" stroke="#c8102e" stroke-width="0.9" stroke-opacity="0.55"/><line x1="78.06" y1="31.06" x2="84.94" y2="37.94" stroke="#c8102e" stroke-width="0.9" stroke-opacity="0.55"/><line x1="78.06" y1="37.94" x2="84.94" y2="31.06" stroke="#c8102e" stroke-width="0.9" stroke-opacity="0.55"/>
<circle cx="81.45" cy="48.8" r="3.75" fill="#1b80d6"/>
<line x1="77.80" y1="62.50" x2="85.20" y2="62.50" stroke="#1b7fd5" stroke-width="0.9" stroke-opacity="0.7"/><line x1="81.50" y1="58.80" x2="81.50" y2="66.20" stroke="#1b7fd5" stroke-width="0.9" stroke-opacity="0.7"/><line x1="78.06" y1="59.06" x2="84.94" y2="65.94" stroke="#1b7fd5" stroke-width="0.9" stroke-opacity="0.7"/><line x1="78.06" y1="65.94" x2="84.94" y2="59.06" stroke="#1b7fd5" stroke-width="0.9" stroke-opacity="0.7"/>
<rect x="77.5" y="73.5" width="8" height="8" fill="none" stroke="#555" stroke-width="1"/>
<text transform="translate(270.10,231.30) scale(1.0,1)" font-family="Liberation Sans, sans-serif" font-size="11" letter-spacing="0.3" fill="#4a4a4a">Field</text>
<text transform="translate(300.20,231.30) scale(0.93,1)" font-family="Liberation Sans, sans-serif" font-size="11" letter-spacing="0" fill="#4a4a4a">MS</text>
<line x1="322.4" y1="227.4" x2="340" y2="227.4" stroke="#999" stroke-width="2.7"/>
</svg>
</body></html>
